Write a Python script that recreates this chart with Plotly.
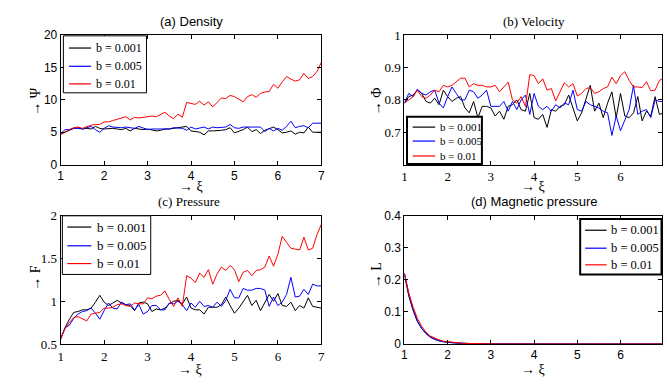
import plotly.graph_objects as go

# ---------------- data ----------------
xi = [round(1 + 0.1 * i, 1) for i in range(61)]
labels = ["b = 0.001", "b = 0.005", "b = 0.01"]
colors = ["black", "blue", "red"]

# (a) Density  Psi
psi_b001 = [4.7, 5.0, 5.3, 5.6, 5.7, 5.5, 5.6, 5.5, 5.9, 5.6,
            5.5, 5.6, 5.6, 5.5, 5.4, 5.6, 5.2, 5.6, 5.5, 5.4,
            5.5, 5.3, 5.2, 5.3, 5.5, 5.5, 5.6, 5.6, 5.7, 5.9,
            5.2, 5.1, 5.0, 4.6, 5.2, 5.2, 5.2, 5.3, 5.4, 5.7,
            4.9, 5.1, 5.4, 5.8, 5.1, 5.4, 4.8, 5.3, 5.6, 5.8,
            5.4, 4.9, 5.0, 5.2, 4.7, 5.0, 4.9, 5.8, 5.0, 5.0,
            5.0]
psi_b005 = [4.8, 5.4, 5.4, 5.6, 5.6, 5.5, 5.7, 5.9, 5.4, 5.0,
            5.6, 6.0, 5.8, 5.7, 5.7, 5.8, 5.7, 5.6, 5.9, 5.6,
            5.4, 5.5, 5.5, 5.4, 5.5, 5.5, 5.7, 5.6, 5.6, 5.3,
            5.8, 5.5, 5.6, 5.8, 5.5, 5.8, 5.7, 5.8, 5.8, 6.2,
            5.7, 5.6, 5.8, 5.8, 5.8, 5.8, 5.8, 5.1, 5.6, 5.2,
            5.6, 5.3, 5.9, 6.7, 5.7, 5.9, 6.0, 5.7, 6.4, 6.4,
            6.4]
psi_b01 = [4.7, 5.1, 5.4, 5.7, 5.8, 5.6, 5.9, 6.1, 6.2, 6.2,
           6.6, 6.6, 6.8, 7.0, 7.2, 7.4, 6.9, 7.3, 7.2, 7.3,
           7.3, 7.5, 7.4, 7.8, 8.1, 7.5, 7.1, 7.8, 7.3, 9.6,
           9.5, 9.3, 9.8, 9.2, 9.7, 8.9, 9.6, 10.3, 10.2, 10.7,
           10.5, 10.1, 9.7, 10.5, 10.8, 10.4, 11.0, 11.2, 11.3, 12.4,
           11.8, 12.8, 13.6, 13.2, 12.9, 13.1, 14.1, 13.3, 13.6, 14.4,
           15.8]

# (b) Velocity  Phi
phi_b001 = [0.79, 0.81, 0.815, 0.83, 0.82, 0.795, 0.79, 0.805, 0.785, 0.83,
            0.81, 0.795, 0.805, 0.81, 0.775, 0.76, 0.795, 0.745, 0.78, 0.78,
            0.775, 0.75, 0.765, 0.74, 0.78, 0.785, 0.80, 0.77, 0.765, 0.82,
            0.745, 0.74, 0.755, 0.715, 0.77, 0.765, 0.78, 0.785, 0.815, 0.775,
            0.735, 0.76, 0.80, 0.845, 0.765, 0.79, 0.745, 0.79, 0.825, 0.745,
            0.82, 0.75, 0.745, 0.76, 0.81, 0.735, 0.765, 0.75, 0.81, 0.755,
            0.76]
phi_b005 = [0.79, 0.82, 0.81, 0.833, 0.82, 0.815, 0.825, 0.83, 0.79, 0.775,
            0.81, 0.84, 0.82, 0.80, 0.80, 0.83, 0.825, 0.805, 0.815, 0.83,
            0.78, 0.78, 0.78, 0.795, 0.765, 0.795, 0.77, 0.80, 0.815, 0.755,
            0.82, 0.78, 0.77, 0.78, 0.765, 0.785, 0.775, 0.79, 0.785, 0.83,
            0.77, 0.765, 0.795, 0.785, 0.78, 0.775, 0.765, 0.76, 0.69, 0.75,
            0.705, 0.735, 0.77, 0.845, 0.755, 0.765, 0.77, 0.745, 0.80, 0.795,
            0.795]
phi_b01 = [0.79, 0.80, 0.81, 0.83, 0.81, 0.805, 0.815, 0.83, 0.825, 0.845,
           0.84, 0.845, 0.855, 0.867, 0.867, 0.84, 0.85, 0.845, 0.845, 0.84,
           0.84, 0.845, 0.825, 0.84, 0.855, 0.80, 0.79, 0.81, 0.78, 0.878,
           0.875, 0.85, 0.865, 0.83, 0.835, 0.797, 0.825, 0.853, 0.84, 0.85,
           0.812, 0.82, 0.835, 0.838, 0.82, 0.825, 0.835, 0.84, 0.87, 0.85,
           0.875, 0.887, 0.86, 0.84, 0.84, 0.838, 0.856, 0.828, 0.83, 0.86,
           0.868]

# (c) Pressure  F
f_b001 = [0.56, 0.69, 0.79, 0.87, 0.88, 0.90, 0.90, 0.92, 0.99, 1.07,
          0.99, 0.95, 0.98, 1.01, 0.98, 0.96, 0.95, 0.89, 0.98, 0.99,
          0.97, 0.88, 0.91, 0.90, 0.92, 0.97, 1.00, 1.01, 0.97, 1.05,
          0.92, 0.90, 0.90, 0.85, 0.93, 0.93, 0.93, 0.96, 1.05, 0.95,
          0.86, 0.92, 0.99, 1.07, 0.95, 1.01, 0.89, 0.98, 1.08, 1.00,
          1.09, 0.95, 0.94, 0.99, 0.89, 0.95, 0.92, 1.04, 0.94, 0.93,
          0.92]
f_b005 = [0.56, 0.69, 0.72, 0.80, 0.85, 0.88, 0.89, 0.92, 0.86, 0.79,
          0.89, 0.98, 0.92, 0.91, 0.99, 0.96, 0.97, 0.90, 0.96, 0.85,
          0.88, 0.95, 0.95, 0.90, 0.90, 0.98, 0.97, 1.00, 0.96, 0.89,
          0.98, 0.93, 1.00, 0.94, 0.95, 0.93, 0.99, 0.94, 1.01, 1.14,
          1.04, 1.04, 1.15, 1.13, 1.13, 1.15, 1.15, 1.13, 0.94, 1.05,
          0.95, 0.99, 1.08, 1.28, 1.05, 1.06, 1.14, 1.08, 1.20, 1.18,
          1.18]
f_b01 = [0.56, 0.68, 0.75, 0.81, 0.82, 0.79, 0.77, 0.85, 0.86, 0.87,
         0.92, 0.92, 0.93, 0.96, 0.97, 0.95, 0.94, 0.98, 0.97, 0.97,
         1.04, 1.03, 1.06, 1.07, 1.12, 1.02, 0.94, 1.04, 0.94, 1.30,
         1.27, 1.22, 1.33, 1.28, 1.37, 1.20, 1.32, 1.40, 1.36, 1.42,
         1.37, 1.23, 1.34, 1.36, 1.30, 1.36, 1.37, 1.40, 1.53, 1.41,
         1.55, 1.76, 1.69, 1.62, 1.61, 1.60, 1.75, 1.60, 1.62, 1.78,
         1.90]

# (d) Magnetic pressure  L
l_b001 = [0.215, 0.15, 0.105, 0.07, 0.048, 0.032, 0.021, 0.014, 0.010, 0.007,
          0.005, 0.004, 0.003, 0.002, 0.0015, 0.001, 0.0008, 0.0005, 0.0004, 0.0003,
          0.0, 0.0, 0.0, 0.0, 0.0, 0.0, 0.0, 0.0, 0.0, 0.0,
          0.0, 0.0, 0.0, 0.0, 0.0, 0.0, 0.0, 0.0, 0.0, 0.0,
          0.0, 0.0, 0.0, 0.0, 0.0, 0.0, 0.0, 0.0, 0.0, 0.0,
          0.0, 0.0, 0.0, 0.0, 0.0, 0.0, 0.0, 0.0, 0.0, 0.0,
          0.0]
l_b005 = [0.222, 0.155, 0.108, 0.072, 0.049, 0.033, 0.022, 0.015, 0.010, 0.007,
          0.005, 0.004, 0.003, 0.002, 0.0015, 0.001, 0.0008, 0.0005, 0.0004, 0.0003,
          0.0, 0.0, 0.0, 0.0, 0.0, 0.0, 0.0, 0.0, 0.0, 0.0,
          0.0, 0.0, 0.0, 0.0, 0.0, 0.0, 0.0, 0.0, 0.0, 0.0,
          0.0, 0.0, 0.0, 0.0, 0.0, 0.0, 0.0, 0.0, 0.0, 0.0,
          0.0, 0.0, 0.0, 0.0, 0.0, 0.0, 0.0, 0.0, 0.0, 0.0,
          0.0]
l_b01 = [0.22, 0.16, 0.115, 0.08, 0.055, 0.037, 0.025, 0.018, 0.013, 0.009,
         0.007, 0.005, 0.004, 0.003, 0.002, 0.0015, 0.001, 0.0008, 0.0005, 0.0003,
         0.0, 0.0, 0.0, 0.0, 0.0, 0.0, 0.0, 0.0, 0.0, 0.0,
         0.0, 0.0, 0.0, 0.0, 0.0, 0.0, 0.0, 0.0, 0.0, 0.0,
         0.0, 0.0, 0.0, 0.0, 0.0, 0.0, 0.0, 0.0, 0.0, 0.0,
         0.0, 0.0, 0.0, 0.0, 0.0, 0.0, 0.0, 0.0, 0.0, 0.0,
         0.0]

titles = ["(a) Density", "(b) Velocity", "(c) Pressure", "(d) Magnetic pressure"]
ylabels = ["\u2192 \u03a8", "\u2192 \u03a6", "\u2192 F", "\u2192 L"]
xlabel = "\u2192 \u03be"

# ---------------- figure ----------------
W, H = 667, 384
SANS = "Liberation Sans, Arial, sans-serif"
SERIF = "Liberation Serif, Times New Roman, serif"

def px(x):
    return x / W

def py(y):
    return 1 - y / H

fig = go.Figure()

panels = [
    (["x", "y"], [psi_b001, psi_b005, psi_b01]),
    (["x2", "y2"], [phi_b001, phi_b005, phi_b01]),
    (["x3", "y3"], [f_b001, f_b005, f_b01]),
    (["x4", "y4"], [l_b001, l_b005, l_b01]),
]
for (xa, ya), series in panels:
    for lab, col, vals in zip(labels, colors, series):
        fig.add_trace(go.Scatter(x=xi, y=vals, mode="lines", name=lab,
                                 line=dict(color=col, width=1),
                                 xaxis=xa, yaxis=ya, showlegend=False))

def axis(domain, rng, tickvals, family, anchor, ticktext=None, size=12):
    d = dict(domain=domain, range=rng, tickvals=tickvals, ticks="inside", ticklen=4,
             tickcolor="black", tickwidth=1, showline=True, linecolor="black", linewidth=1,
             mirror="ticks", showgrid=False, zeroline=False, anchor=anchor,
             tickfont=dict(family=family, size=size, color="black"))
    if ticktext is not None:
        d["ticktext"] = ticktext
    return d

LX = [px(58.3), px(321.7)]
RX = [px(405.7), 0.9985]
TY = [py(164), py(29.3)]
BY = [py(350.7), py(217.3)]
xt = [1, 2, 3, 4, 5, 6, 7]

fig.update_layout(
    width=W, height=H, margin=dict(l=0, r=0, t=0, b=0),
    paper_bgcolor="white", plot_bgcolor="white", showlegend=False,
    xaxis=axis(LX, [1, 7], xt, SANS, "y"),
    yaxis=axis(TY, [0, 20], [0, 5, 10, 15, 20], SANS, "x"),
    xaxis2=axis(RX, [1, 6.96], xt, SERIF, "y2", size=13),
    yaxis2=axis(TY, [0.6, 1.0], [0.7, 0.8, 0.9, 1.0], SERIF, "x2", ["0.7", "0.8", "0.9", "1"], size=13),
    xaxis3=axis(LX, [1, 7], xt, SERIF, "y3", size=13),
    yaxis3=axis(BY, [0.5, 2.0], [0.5, 1, 1.5, 2], SERIF, "x3", ["0.5", "1", "1.5", "2"], size=13),
    xaxis4=axis(RX, [1, 6.96], xt, SANS, "y4"),
    yaxis4=axis(BY, [0, 0.4], [0, 0.1, 0.2, 0.3, 0.4], SANS, "x4", ["0", "0.1", "0.2", "0.3", "0.4"]),
)

shapes = []
annotations = []

# hand-built MATLAB-style legends: box, row centres, line sample, text start, font, border
legend_specs = [
    dict(box=(61, 30, 145, 89.3), rows=(42.7, 61.7, 80), line=(66.7, 89), tx=92, fs=12, bw=1),
    dict(box=(408.3, 114.3, 484, 163.5), rows=(125, 139.5, 155), line=(414, 436.7), tx=439.3, fs=11, bw=2),
    dict(box=(60, 217.3, 149.3, 278.3), rows=(229, 248.5, 267), line=(65, 89.3), tx=92.7, fs=13, bw=1),
    dict(box=(583.3, 220.7, 665.5, 278.3), rows=(232.3, 251, 268.3), line=(588.3, 610), tx=612.5, fs=12.5, bw=2),
]
for spec in legend_specs:
    x0, y0, x1, y1 = spec["box"]
    shapes.append(dict(type="rect", xref="paper", yref="paper",
                       x0=px(x0), x1=px(x1), y0=py(y1), y1=py(y0),
                       fillcolor="white", line=dict(color="black", width=spec["bw"]), layer="above"))
    for ry, col, lab in zip(spec["rows"], colors, labels):
        shapes.append(dict(type="line", xref="paper", yref="paper",
                           x0=px(spec["line"][0]), x1=px(spec["line"][1]), y0=py(ry), y1=py(ry),
                           line=dict(color=col, width=1.2), layer="above"))
        annotations.append(dict(x=px(spec["tx"]), y=py(ry), xref="paper", yref="paper", text=lab,
                                showarrow=False, xanchor="left", yanchor="middle",
                                font=dict(family=SERIF, size=spec["fs"], color="black")))

# x labels
for cx, cy in [(190, 187), (536, 187), (189, 377), (536, 377)]:
    annotations.append(dict(x=px(cx), y=py(cy), xref="paper", yref="paper", text=xlabel,
                            showarrow=False, xanchor="center", yanchor="middle",
                            font=dict(family=SERIF, size=14, color="black")))
# y labels
for (cx, cy), t in zip([(33, 98), (377, 98), (33, 282), (377, 279)], ylabels):
    annotations.append(dict(x=px(cx), y=py(cy), xref="paper", yref="paper", text=t,
                            showarrow=False, xanchor="center", yanchor="middle", textangle=-90,
                            font=dict(family=SERIF, size=14, color="black")))
# titles
for (cx, cy), t, fam in zip([(190, 15), (537, 15), (188, 202), (537, 202)], titles,
                            [SANS, SERIF, SERIF, SANS]):
    annotations.append(dict(x=px(cx), y=py(cy), xref="paper", yref="paper", text=t,
                            showarrow=False, xanchor="center", yanchor="middle",
                            bgcolor="white", borderpad=0,
                            font=dict(family=fam, size=13, color="black")))

fig.update_layout(shapes=shapes, annotations=annotations)

fig.write_html("out.html", config={"displayModeBar": False},
               post_script="document.body.style.margin='0';")
